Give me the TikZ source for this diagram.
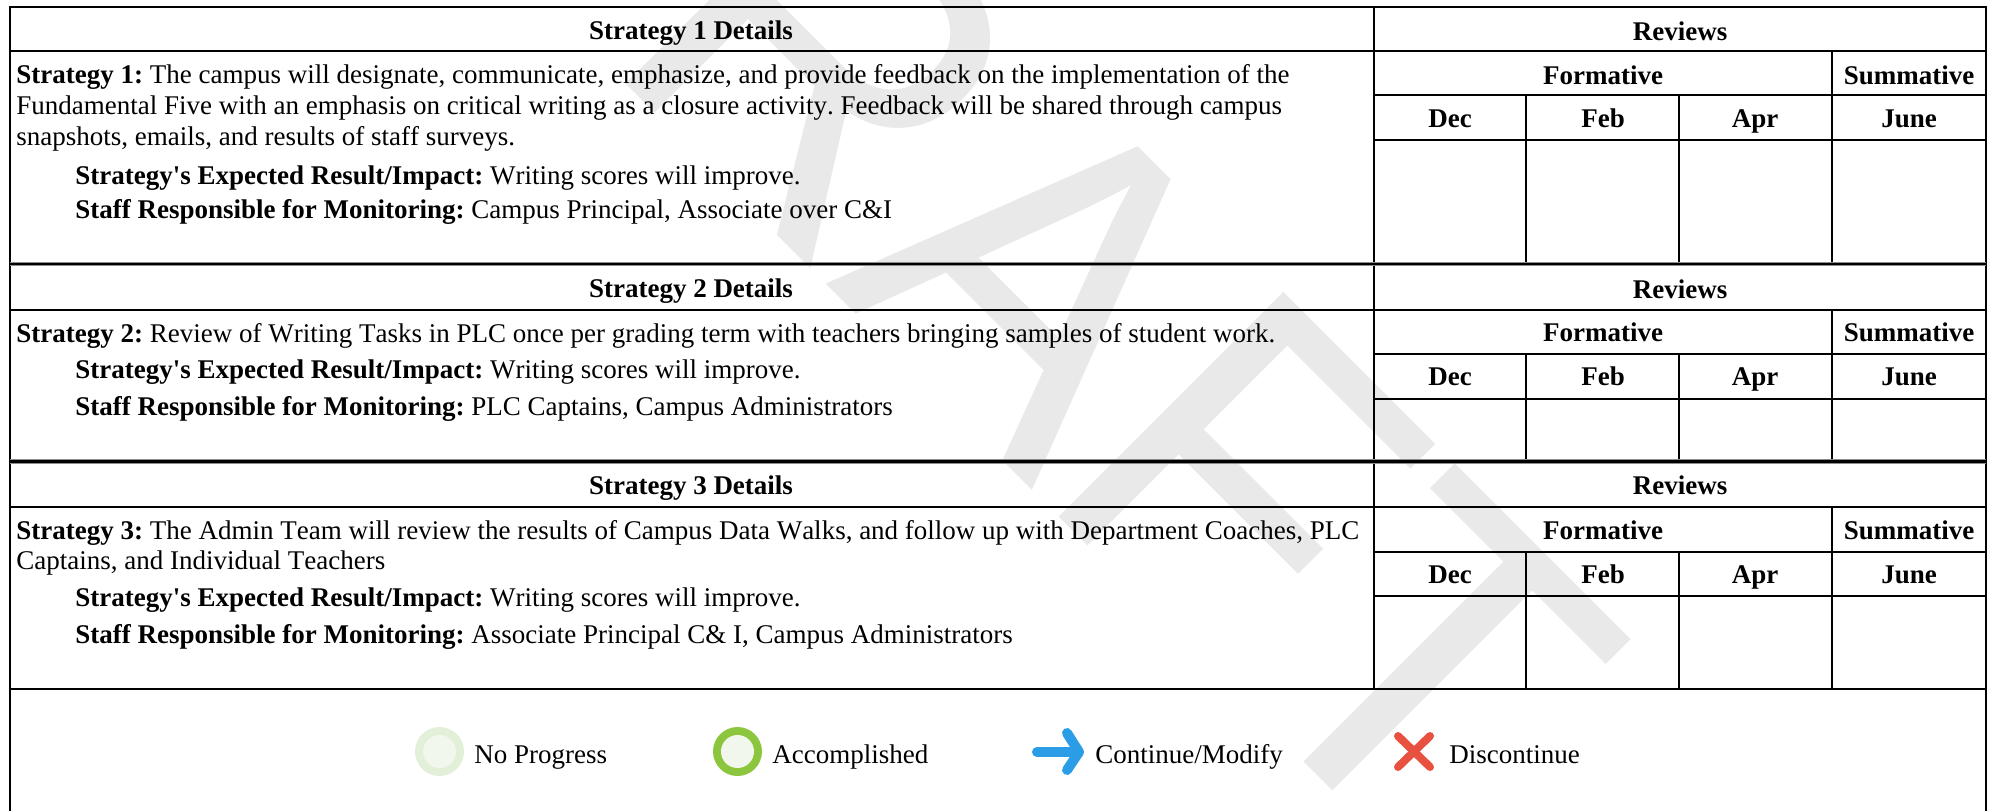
\documentclass[tikz,border=0pt]{standalone}
\usepackage{fontspec}
\usepackage{graphicx}
\setmainfont{Liberation Serif}
\newfontfamily\bodyfont[Kerning=Off]{Liberation Serif}
\newfontfamily\wmfont{Liberation Sans}
\tikzset{
  x=0.5pt,y=-0.5pt,
  txt/.style={anchor=base west,inner sep=0pt,font=\bodyfont\frenchspacing\fontsize{13.5}{15}\selectfont},
  ctr/.style={anchor=base,inner sep=0pt,font=\bodyfont\fontsize{13.5}{15}\selectfont\bfseries},
  rule/.style={line width=1pt,black,line cap=butt},
  dblgray/.style={line width=2.4pt,black!45},
  dblblack/.style={line width=1.3pt,black},
}
\definecolor{wm}{HTML}{E9E9E9}
\definecolor{ringpale}{HTML}{E2EFD9}
\definecolor{ringgreen}{HTML}{8CC63F}
\definecolor{innerpale}{HTML}{F1F7EC}
\definecolor{arrowblue}{HTML}{2A9DE6}
\definecolor{crossred}{HTML}{E85040}
\begin{document}
\begin{tikzpicture}
\useasboundingbox (0,0) rectangle (1991,811);
\fill[white] (0,0) rectangle (1991,811);
\begin{scope}
\clip (0,0) rectangle (1991,811);
\node[anchor=base west,inner sep=0pt,rotate=-45,text=wm,font=\wmfont\fontsize{220}{220}\selectfont] (wmark) at (376,-166) {\scalebox{1}[1.05]{DRAFT}};
\end{scope}
% outer frame and columns
\draw[rule] (9.5,811) -- (9.5,7) -- (1986,7) -- (1986,811);
\draw[rule] (9.5,51) -- (1986,51);
\draw[rule] (1374,7) -- (1374,688.5);
\draw[rule] (1374,95) -- (1986,95);
\draw[rule] (1374,140) -- (1986,140);
\draw[rule] (1526,95) -- (1526,264);
\draw[rule] (1679,95) -- (1679,264);
\draw[rule] (1832,51) -- (1832,264);
% second block
\draw[dblgray] (9.5,264) -- (1986,264);
\draw[dblblack] (9.5,264) -- (1986,264);
\draw[rule] (9.5,310) -- (1986,310);
\draw[rule] (1374,354) -- (1986,354);
\draw[rule] (1374,399) -- (1986,399);
\draw[rule] (1526,354) -- (1526,461.5);
\draw[rule] (1679,354) -- (1679,461.5);
\draw[rule] (1832,310) -- (1832,461.5);
% third block
\draw[dblgray] (9.5,461.5) -- (1986,461.5);
\draw[dblblack] (9.5,461.5) -- (1986,461.5);
\draw[rule] (9.5,507) -- (1986,507);
\draw[rule] (1374,552) -- (1986,552);
\draw[rule] (1374,596) -- (1986,596);
\draw[rule] (1526,552) -- (1526,688.5);
\draw[rule] (1679,552) -- (1679,688.5);
\draw[rule] (1832,507) -- (1832,688.5);
\draw[rule] (9.5,688.5) -- (1986,688.5);
% headers
\node[ctr] (h1) at (691,39) {Strategy 1 Details};
\node[ctr] (h2) at (691,297) {Strategy 2 Details};
\node[ctr] (h3) at (691,494) {Strategy 3 Details};
\node[ctr] (reva) at (1680,40) {Reviews};
\node[ctr] (revb) at (1680,298) {Reviews};
\node[ctr] (revc) at (1680,494) {Reviews};
\foreach \n/\yy in {a/0.5,b/258,c/456}{
  \node[ctr] (form\n) at (1603,83.5+\yy) {Formative};
  \node[ctr] (summ\n) at (1909,83.5+\yy) {Summative};
  \node[ctr] (dec\n) at (1450,127+\yy) {Dec};
  \node[ctr] (feb\n) at (1603,127+\yy) {Feb};
  \node[ctr] (apr\n) at (1755,127+\yy) {Apr};
  \node[ctr] (jun\n) at (1909,127+\yy) {June};
}
% strategy 1
\node[txt] (s1a) at (16,83) {\textbf{Strategy 1:} The campus will designate, communicate, emphasize, and provide feedback on the implementation of the};
\node[txt] (s1b) at (16,114) {Fundamental Five with an emphasis on critical writing as a closure activity. Feedback will be shared through campus};
\node[txt] (s1c) at (16,145) {snapshots, emails, and results of staff surveys.};
\node[txt] (s1d) at (75,184) {\textbf{Strategy's Expected Result/Impact:} Writing scores will improve.};
\node[txt] (s1e) at (75,218) {\textbf{Staff Responsible for Monitoring:} Campus Principal, Associate over C\&I};
% strategy 2
\node[txt] (s2a) at (16,342) {\textbf{Strategy 2:} Review of Writing Tasks in PLC once per grading term with teachers bringing samples of student work.};
\node[txt] (s2b) at (75,378) {\textbf{Strategy's Expected Result/Impact:} Writing scores will improve.};
\node[txt] (s2c) at (75,415) {\textbf{Staff Responsible for Monitoring:} PLC Captains, Campus Administrators};
% strategy 3
\node[txt] (s3a) at (16,539) {\textbf{Strategy 3:} The Admin Team will review the results of Campus Data Walks, and follow up with Department Coaches, PLC};
\node[txt] (s3b) at (16,569) {Captains, and Individual Teachers};
\node[txt] (s3c) at (75,606) {\textbf{Strategy's Expected Result/Impact:} Writing scores will improve.};
\node[txt] (s3d) at (75,643) {\textbf{Staff Responsible for Monitoring:} Associate Principal C\& I, Campus Administrators};
% legend
\fill[ringpale] (439.5,751.5) circle[radius=12.25pt];
\fill[innerpale] (439.5,751.5) circle[radius=8.25pt];
\node[txt] (l1) at (474,763) {No Progress};
\fill[ringgreen] (737.5,751.5) circle[radius=12.25pt];
\fill[innerpale] (737.5,751.5) circle[radius=8.25pt];
\node[txt] (l2) at (772,763) {Accomplished};
\draw[arrowblue,line width=5pt,line cap=round] (1037,752) -- (1076,752);
\draw[arrowblue,line width=5pt,line cap=round,line join=round] (1067,733) -- (1079,752) -- (1067,770);
\node[txt] (l3) at (1095,763) {Continue/Modify};
\draw[crossred,line width=4pt,line cap=round] (1398,736) -- (1430,767);
\draw[crossred,line width=4pt,line cap=round] (1430,736) -- (1398,767);
\node[txt] (l4) at (1449,763) {Discontinue};
\end{tikzpicture}
\end{document}
